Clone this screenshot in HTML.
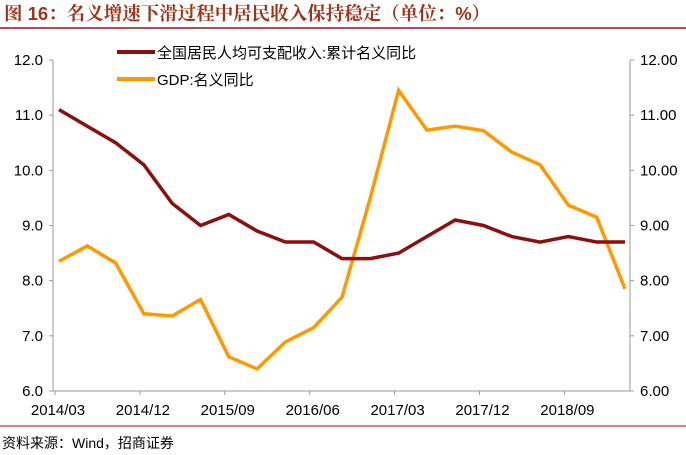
<!DOCTYPE html>
<html><head><meta charset="utf-8"><style>
body{margin:0;background:#fff;width:686px;height:455px;overflow:hidden;font-family:"Liberation Sans","Noto Sans CJK SC",sans-serif}
</style></head><body>
<svg width="686" height="455" style="position:absolute;left:0;top:0">
<text x="4" y="20" font-size="18.5" font-weight="bold" fill="#a0341a" font-family="Liberation Sans,Noto Serif CJK SC,Noto Sans CJK SC,sans-serif">图 16：名义增速下滑过程中居民收入保持稳定（单位：%）</text>
<line x1="0" y1="28" x2="686" y2="28" stroke="#8b1a1a" stroke-width="1.5"/>
<g id="axes"></g>
<g id="series"></g>
<g>
<line x1="117" y1="52" x2="155" y2="52" stroke="#8b0f0f" stroke-width="4"/>
<text x="157" y="58" font-size="15" fill="#000">全国居民人均可支配收入:累计名义同比</text>
<line x1="117" y1="79" x2="155" y2="79" stroke="#ff9900" stroke-width="4"/>
<text x="157" y="85" font-size="15" fill="#000">GDP:名义同比</text>
</g>
<line x1="0" y1="426" x2="686" y2="426" stroke="#8b1a1a" stroke-width="1"/>
<text x="2" y="448" font-size="14" fill="#000">资料来源：Wind，招商证券</text>
</svg>
<script>
const income=[11.1,10.8,10.5,10.1,9.4,9.0,9.2,8.9,8.7,8.7,8.4,8.4,8.5,8.8,9.1,9.0,8.8,8.7,8.8,8.7,8.7];
const gdp=[8.35,8.63,8.32,7.4,7.36,7.66,6.62,6.4,6.89,7.15,7.7,9.5,11.45,10.73,10.8,10.72,10.33,10.1,9.37,9.15,7.85];
const xLabels=["2014/03","2014/12","2015/09","2016/06","2017/03","2017/12","2018/09"];
const leftTicks=["6.0","7.0","8.0","9.0","10.0","11.0","12.0"];
const rightTicks=["6.00","7.00","8.00","9.00","10.00","11.00","12.00"];
const NS="http://www.w3.org/2000/svg";
const X0=53,X1=630,Y0=391,Y1=60;
function x(i){return 59+i*28.3;}
function y(v){return Y0-(v-6)/6*(Y0-Y1);}
function mk(t,a,p){const e=document.createElementNS(NS,t);for(const k in a)e.setAttribute(k,a[k]);p.appendChild(e);return e;}
const ax=document.getElementById('axes');
let e=mk('line',{x1:X0,y1:Y1,x2:X0,y2:Y0,stroke:'#999'},ax);


e=mk('line',{x1:X1,y1:Y1,x2:X1,y2:Y0,stroke:'#999'},ax);


e=mk('line',{x1:X0,y1:Y0,x2:X1,y2:Y0,stroke:'#999'},ax);


leftTicks.forEach((t,k)=>{const v=6+k;const yy=y(v);
mk('line',{x1:X0-4,y1:yy,x2:X0,y2:yy,stroke:'#999'},ax);
mk('line',{x1:X1,y1:yy,x2:X1+4,y2:yy,stroke:'#999'},ax);
let a=mk('text',{x:X0-10,y:yy+5,'font-size':15,'text-anchor':'end',fill:'#000'},ax);a.textContent=t;


let b=mk('text',{x:X1+10,y:yy+5,'font-size':15,fill:'#000'},ax);b.textContent=rightTicks[k];


});
xLabels.forEach((t,k)=>{const xx=x(k*3)-4;
mk('line',{x1:xx,y1:Y0,x2:xx,y2:Y0+4,stroke:'#999'},ax);
let a=mk('text',{x:xx+3,y:Y0+24,'font-size':15,'text-anchor':'middle',fill:'#000'},ax);a.textContent=t;


});
const sg=document.getElementById('series');
function line(d,c,n){const p=mk('polyline',{points:d.map((v,i)=>x(i)+','+y(v)).join(' '),fill:'none',stroke:c,'stroke-width':3.5,'stroke-linejoin':'miter'},sg);

}
line(gdp,'#ff9900','gdp-line');
line(income,'#8b0f0f','income-line');
</script>
</body></html>
